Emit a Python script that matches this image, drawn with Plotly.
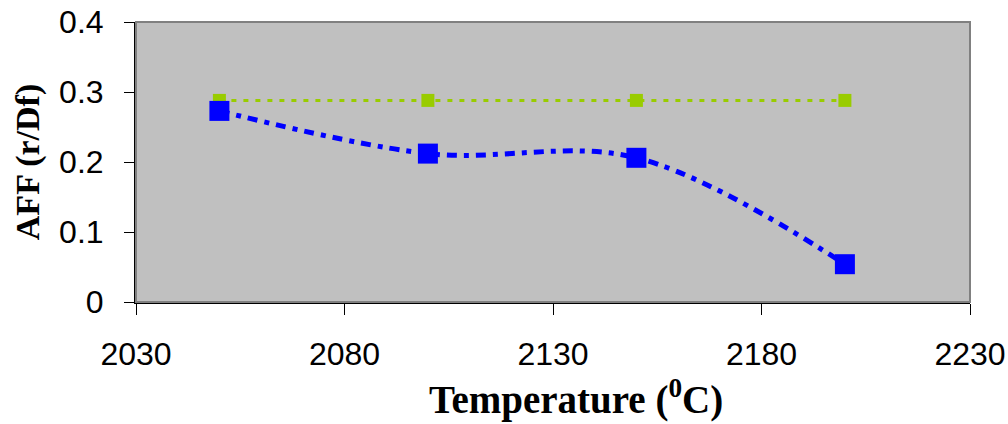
import plotly.graph_objects as go

# Temperature (deg C) and AFF values
temperature = [2050, 2100, 2150, 2200]
aff_measured = [0.273, 0.212, 0.206, 0.054]
aff_reference = [0.288, 0.288, 0.288, 0.288]

x_ticks = [2030, 2080, 2130, 2180, 2230]
y_ticks = [0, 0.1, 0.2, 0.3, 0.4]
y_tick_labels = ["0", "0.1", "0.2", "0.3", "0.4"]

fig = go.Figure()

fig.add_trace(go.Scatter(
    x=temperature, y=aff_reference, mode="lines+markers",
    line=dict(color="#99CC00", width=3, dash="5px,7px"),
    marker=dict(symbol="square", size=13, color="#99CC00"),
    showlegend=False,
))

fig.add_trace(go.Scatter(
    x=temperature, y=aff_measured, mode="lines+markers",
    line=dict(color="#0000FF", width=5, dash="10px,7px,5px,7px", shape="spline", smoothing=1.0),
    marker=dict(symbol="square", size=20, color="#0000FF"),
    showlegend=False,
))

# Grey frame around the plot area
fig.add_shape(type="rect", xref="paper", yref="paper", x0=0, x1=1, y0=0, y1=1,
              line=dict(color="#808080", width=2), layer="above")

# X-axis title, set slightly right of centre
fig.add_annotation(
    text="<b>Temperature (<sup>0</sup>C)</b>", xref="paper", yref="paper",
    x=0.528, y=-0.34, xanchor="center", yanchor="middle", showarrow=False,
    font=dict(family="Liberation Serif, Times New Roman", size=39, color="black"),
)

fig.update_layout(
    width=1008, height=424,
    margin=dict(l=136, r=38, t=22, b=122),
    paper_bgcolor="white",
    plot_bgcolor="#C0C0C0",
    xaxis=dict(
        range=[2030, 2230], tickvals=x_ticks, ticktext=[str(v) for v in x_ticks],
        showgrid=False, zeroline=False, automargin=False,
        showline=True, linecolor="black", linewidth=2,
        ticks="outside", ticklen=11, tickcolor="black", tickwidth=1,
        ticklabelstandoff=12,
        tickfont=dict(family="Liberation Sans, Arial", size=32, color="black"),
    ),
    yaxis=dict(
        range=[0, 0.4], tickvals=y_ticks, ticktext=y_tick_labels,
        showgrid=False, zeroline=False, automargin=False,
        showline=True, linecolor="black", linewidth=2,
        ticks="outside", ticklen=10, tickcolor="black", tickwidth=1,
        ticklabelstandoff=14,
        tickfont=dict(family="Liberation Sans, Arial", size=32, color="black"),
        title=dict(text="<b>AFF (r/Df)</b>", standoff=9,
                   font=dict(family="Liberation Serif, Times New Roman", size=34, color="black")),
    ),
)

fig.write_html("out.html")
